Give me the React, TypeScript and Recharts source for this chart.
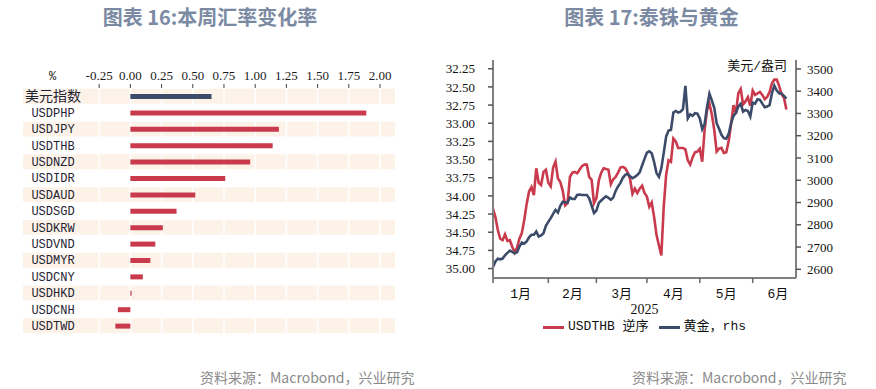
import React from "react";
import {
  BarChart,
  Bar,
  Cell,
  XAxis,
  YAxis,
  CartesianGrid,
  LineChart,
  Line,
  Legend,
} from "recharts";

// 图表 16: 本周汇率变化率 (%)
const currencies = [
  "美元指数", "USDPHP", "USDJPY", "USDTHB", "USDNZD", "USDIDR", "USDAUD", "USDSGD",
  "USDKRW", "USDVND", "USDMYR", "USDCNY", "USDHKD", "USDCNH", "USDTWD",
];
const weeklyChange = [0.65, 1.89, 1.19, 1.14, 0.96, 0.76, 0.52, 0.37, 0.26, 0.2, 0.16, 0.1, 0.01, -0.1, -0.12];
const changeTicks = [-0.25, 0, 0.25, 0.5, 0.75, 1, 1.25, 1.5, 1.75, 2];

// 图表 17: 泰铢与黄金 (trading-day index from 2025-01-01)
const monthStarts = [0, 23, 43, 64, 86, 108, 129];
const monthLabels = ["1月", "2月", "3月", "4月", "5月", "6月"];
const thbTicks = [32.25, 32.5, 32.75, 33, 33.25, 33.5, 33.75, 34, 34.25, 34.5, 34.75, 35];
const goldTicks = [2600, 2700, 2800, 2900, 3000, 3100, 3200, 3300, 3400, 3500];

const usdthb = [
  34.18, 34.29, 34.47, 34.59, 34.61, 34.53, 34.62, 34.61, 34.7, 34.78, 34.71, 34.59, 34.51, 34.33, 34.11, 33.94,
  33.88, 33.99, 33.62, 33.82, 33.85, 33.67, 33.64, 33.82, 33.87, 33.61, 33.53, 33.76, 33.81, 33.93, 34.13, 34.1,
  33.74, 33.68, 33.67, 33.69, 33.64, 33.59, 33.57, 33.57, 33.74, 33.78, 34.1, 34.03, 33.79, 33.68, 33.62, 33.63,
  33.64, 33.84, 33.77, 33.74, 33.68, 33.61, 33.6, 33.62, 33.68, 33.77, 33.97, 33.9, 33.96, 33.9, 33.86, 33.96,
  34.01, 34.15, 34.09, 34.29, 34.54, 34.68, 34.82, 34.15, 33.71, 33.51, 33.53, 33.21, 33.25, 33.34, 33.34, 33.34,
  33.36, 33.51, 33.57, 33.47, 33.4, 33.39, 33.35, 33.53, 33.09, 32.82, 32.73, 32.88, 33.09, 33.39, 33.35, 33.34,
  33.41, 33.4, 33.25, 33.02, 32.75, 32.86, 32.59, 32.53, 32.74, 32.7, 32.64, 32.76, 32.55, 32.61, 32.59, 32.57,
  32.61, 32.67, 32.64, 32.57, 32.45, 32.4, 32.4, 32.49, 32.6, 32.65, 32.81,
];
const gold = [
  2610, 2635, 2648, 2645, 2648, 2663, 2674, 2684, 2678, 2672, 2677, 2702, 2720, 2716, 2725, 2744,
  2755, 2755, 2770, 2747, 2752, 2762, 2795, 2813, 2830, 2849, 2867, 2855, 2885, 2903, 2900, 2900,
  2922, 2916, 2916, 2934, 2936, 2934, 2934, 2934, 2919, 2886, 2853, 2864, 2898, 2909, 2919, 2928,
  2921, 2912, 2922, 2952, 2972, 2988, 3011, 3024, 3029, 3018, 3009, 3015, 3023, 3036, 3066, 3096,
  3124, 3130, 3121, 3082, 3032, 3015, 3054, 3123, 3196, 3223, 3226, 3304, 3311, 3304, 3308, 3319,
  3424, 3278, 3296, 3289, 3301, 3299, 3278, 3229, 3253, 3328, 3388, 3358, 3325, 3256, 3231, 3204,
  3189, 3186, 3208, 3256, 3289, 3302, 3331, 3343, 3308, 3316, 3311, 3286, 3349, 3344, 3364, 3361,
  3344, 3328, 3331, 3337, 3391, 3425, 3403, 3391, 3389, 3379, 3367,
];

const legendItems = [
  { name: "USDTHB 逆序", color: "#c93a4c" },
  { name: "黄金，rhs", color: "#3c4b6a" },
];

const RED = "#c93a4c";
const NAVY = "#3c4b6a";
const STRIPE = "#fcf2e8";
const MONO = '"Liberation Mono", "Noto Sans CJK SC", monospace';
const SERIF = '"Liberation Serif", serif';
const CJK = '"Noto Sans CJK SC", sans-serif';

const barRows = currencies.map((name, i) => ({ pos: i, name, value: weeklyChange[i] }));
const rowEdges = [...barRows.map((r) => r.pos - 0.5), barRows.length - 0.5];
const lineRows = usdthb.map((v, i) => ({ day: i, thb: v, gold: gold[i] }));
const X_MAX = 126;
const monthMids = monthLabels.map((_, k) => (monthStarts[k] + monthStarts[k + 1]) / 2);
const monthTicks = [...monthStarts.filter((d) => d <= X_MAX), ...monthMids].sort((a, b) => a - b);

const CurrencyTick = (props: any) => {
  const { x, y, payload } = props;
  const label = currencies[payload.value];
  if (label === undefined) return null;
  const wide = /[^\x00-\x7f]/.test(label);
  return (
    <text x={x + 30} y={y} dy="0.35em" textAnchor="middle" fontFamily={MONO} fontSize={wide ? 14 : 12} fill="#1f2433">
      {label}
    </text>
  );
};

const MonthTick = (props: any) => {
  const { x, y, payload } = props;
  const v = payload.value;
  if (monthStarts.includes(v)) {
    return <line x1={x} x2={x} y1={y} y2={y + 5} stroke="#666" strokeWidth={1.5} />;
  }
  const k = monthMids.indexOf(v);
  return (
    <text x={x} y={y + 20} textAnchor="middle" fontFamily={MONO} fontSize={13} fill="#111">
      {monthLabels[k]}
    </text>
  );
};

const LegendContent = () => (
  <div style={{ display: "flex", justifyContent: "center", alignItems: "center", gap: 10, fontFamily: MONO, fontSize: 13, color: "#111", lineHeight: "18px" }}>
    {legendItems.map((it) => (
      <div key={it.name} style={{ display: "flex", alignItems: "center", gap: 4 }}>
        <span style={{ display: "inline-block", width: 21, height: 3, background: it.color }} />
        <span>{it.name}</span>
      </div>
    ))}
  </div>
);

const titleStyle: React.CSSProperties = {
  position: "absolute",
  top: 5,
  fontFamily: CJK,
  fontWeight: 700,
  fontSize: 20,
  lineHeight: "24px",
  color: "#7b8aa3",
  textAlign: "center",
};

const sourceStyle: React.CSSProperties = {
  position: "absolute",
  top: 367,
  fontFamily: CJK,
  fontSize: 14,
  lineHeight: "20px",
  color: "#8a8a8a",
  whiteSpace: "nowrap",
};

export default function App() {
  return (
    <div style={{ position: "absolute", left: 0, top: 0, width: 876, height: 389, background: "#fff" }}>
      <div style={{ ...titleStyle, left: 0, width: 420 }}>图表 16:本周汇率变化率</div>
      <div style={{ ...titleStyle, left: 440, width: 423 }}>图表 17:泰铢与黄金</div>

      <div style={{ position: "absolute", left: 0, top: 0 }}>
        <BarChart width={440} height={389} data={barRows} layout="vertical" margin={{ top: 63, right: 45, bottom: 55, left: 23 }}>
          <CartesianGrid
            horizontalValues={rowEdges}
            verticalValues={changeTicks}
            horizontalFill={[STRIPE, "#ffffff"]}
            fillOpacity={1}
            stroke="#ffffff"
            strokeWidth={1.5}
          />
          <XAxis
            type="number"
            dataKey="value"
            orientation="top"
            domain={[-0.86, 2.12]}
            ticks={changeTicks}
            interval={0}
            height={25}
            axisLine={false}
            tickSize={4}
            tickMargin={4}
            tickLine={{ stroke: "#444" }}
            tickFormatter={(v: number) => v.toFixed(2)}
            tick={{ fontFamily: SERIF, fontSize: 13, fill: "#1a1a1a" }}
            label={{ value: "%", position: "insideLeft", offset: 26, fontFamily: MONO, fontSize: 12, fill: "#1a1a1a" }}
          />
          <YAxis
            type="number"
            dataKey="pos"
            domain={[-0.5, 14.5]}
            ticks={barRows.map((r) => r.pos)}
            interval={0}
            mirror
            axisLine={false}
            tickLine={false}
            tickSize={0}
            tickMargin={0}
            tick={<CurrencyTick />}
          />
          <Bar dataKey="value" barSize={5} isAnimationActive={false}>
            {barRows.map((r) => (
              <Cell key={r.name} fill={r.pos === 0 ? NAVY : RED} />
            ))}
          </Bar>
        </BarChart>
      </div>

      <div style={{ position: "absolute", left: 440, top: 0 }}>
        <LineChart width={436} height={389} data={lineRows} margin={{ top: 60, right: 35, bottom: 75, left: 3 }}>
          <XAxis
            type="number"
            dataKey="day"
            domain={[0, X_MAX]}
            ticks={monthTicks}
            interval={0}
            height={36}
            tickSize={0}
            tickMargin={0}
            tickLine={false}
            axisLine={{ stroke: "#808080", strokeWidth: 2 }}
            tick={<MonthTick />}
            label={{ value: "2025", position: "insideBottom", offset: 0, fontFamily: SERIF, fontSize: 14, fill: "#111" }}
          />
          <YAxis
            yAxisId="thb"
            type="number"
            domain={[32.13, 35.13]}
            reversed
            ticks={thbTicks}
            interval={0}
            width={50}
            tickSize={5}
            tickMargin={13}
            axisLine={{ stroke: "#808080", strokeWidth: 2 }}
            tickLine={{ stroke: "#555", strokeWidth: 1.5 }}
            tickFormatter={(v: number) => v.toFixed(2)}
            tick={{ fontFamily: SERIF, fontSize: 13, fill: "#111" }}
          />
          <YAxis
            yAxisId="gold"
            orientation="right"
            type="number"
            domain={[2561, 3540]}
            ticks={goldTicks}
            interval={0}
            width={45}
            tickSize={5}
            tickMargin={6}
            axisLine={{ stroke: "#808080", strokeWidth: 2 }}
            tickLine={{ stroke: "#555", strokeWidth: 1.5 }}
            tick={{ fontFamily: SERIF, fontSize: 13, fill: "#111" }}
          />
          <Line yAxisId="thb" dataKey="thb" type="linear" stroke={RED} strokeWidth={2.6} dot={false} isAnimationActive={false} />
          <Line yAxisId="gold" dataKey="gold" type="linear" stroke={NAVY} strokeWidth={2.6} dot={false} isAnimationActive={false} />
          <Legend
            layout="horizontal"
            verticalAlign="middle"
            align="center"
            wrapperStyle={{ top: 318, left: 53, width: 303, height: 18 }}
            content={() => <LegendContent />}
          />
        </LineChart>
      </div>

      <div style={{ position: "absolute", left: 700, top: 57, width: 87, textAlign: "right", fontFamily: MONO, fontSize: 13, lineHeight: "20px", color: "#111" }}>
        美元/盎司
      </div>

      <div style={{ ...sourceStyle, left: 200 }}>资料来源：Macrobond，兴业研究</div>
      <div style={{ ...sourceStyle, left: 632 }}>资料来源：Macrobond，兴业研究</div>
    </div>
  );
}
